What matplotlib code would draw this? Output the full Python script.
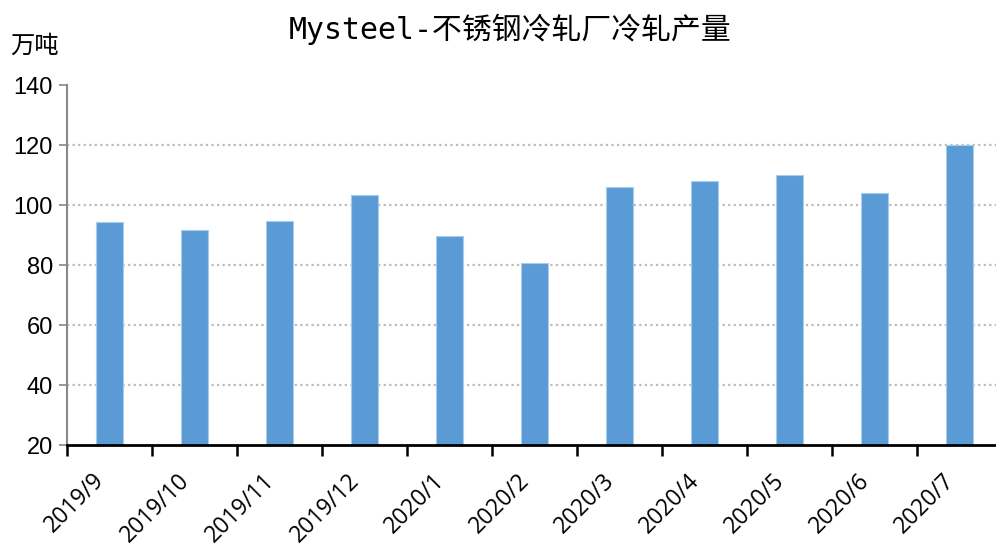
import numpy as np
import matplotlib.pyplot as plt

# 数据：Mysteel 不锈钢冷轧厂冷轧产量（万吨）
months = ['2019/9', '2019/10', '2019/11', '2019/12', '2020/1', '2020/2',
          '2020/3', '2020/4', '2020/5', '2020/6', '2020/7']
output = [94.3, 91.6, 94.6, 103.4, 89.8, 80.8, 106.1, 108.1, 109.9, 103.9, 120.1]
y_ticks = [20, 40, 60, 80, 100, 120, 140]

plt.rcParams['font.family'] = ['Liberation Sans', 'Noto Sans CJK SC', 'DejaVu Sans']

fig = plt.figure(figsize=(9.96, 5.49), dpi=100)
ax = fig.add_axes([67 / 996, 1 - 445 / 549, 935 / 996, 360 / 549])

x = np.arange(len(months))
ax.bar(x, output, width=0.31, bottom=0, color='#5B9BD5',
       edgecolor='#A9CCEB', linewidth=0.8, zorder=3)

ax.set_xlim(-0.5, len(months) - 0.5)
ax.set_ylim(20, 140)
ax.set_yticks(y_ticks)
ax.set_yticklabels([str(v) for v in y_ticks], fontsize=17)

# 刻度线在类别边界，标签在柱子中间
ax.set_xticks(x)
ax.set_xticklabels(months, rotation=45, ha='right', fontsize=16.5,
                   family=['Open Sans', 'DejaVu Sans'])
ax.set_xticks(np.arange(-0.5, len(months) + 0.5, 1), minor=True)
ax.tick_params(axis='x', which='major', length=0, pad=17)
ax.tick_params(axis='x', which='minor', length=8, width=1.8, color='black', direction='out')
ax.tick_params(axis='y', length=6, width=1.2, color='#888888', pad=4)

ax.yaxis.grid(True, linestyle=(0, (1, 1.5)), color='#BBBBBB', linewidth=1.6, zorder=0)
gl = ax.yaxis.get_gridlines()
gl[0].set_visible(False)
gl[-1].set_visible(False)

for s in ['top', 'right']:
    ax.spines[s].set_visible(False)
ax.spines['left'].set_color('#888888')
ax.spines['left'].set_linewidth(1.5)
ax.spines['bottom'].set_color('black')
ax.spines['bottom'].set_linewidth(2)
ax.spines['bottom'].set_zorder(4)

fig.text(510 / 996, 1 - 29 / 549, 'Mysteel-不锈钢冷轧厂冷轧产量', ha='center', va='center',
         fontsize=21.5, family=['DejaVu Sans Mono', 'Noto Sans CJK SC'])
fig.text(10 / 996, 1 - 46 / 549, '万吨', ha='left', va='center', fontsize=17.5,
         family=['Noto Sans CJK SC'])

fig.savefig('out.png', dpi=100)
